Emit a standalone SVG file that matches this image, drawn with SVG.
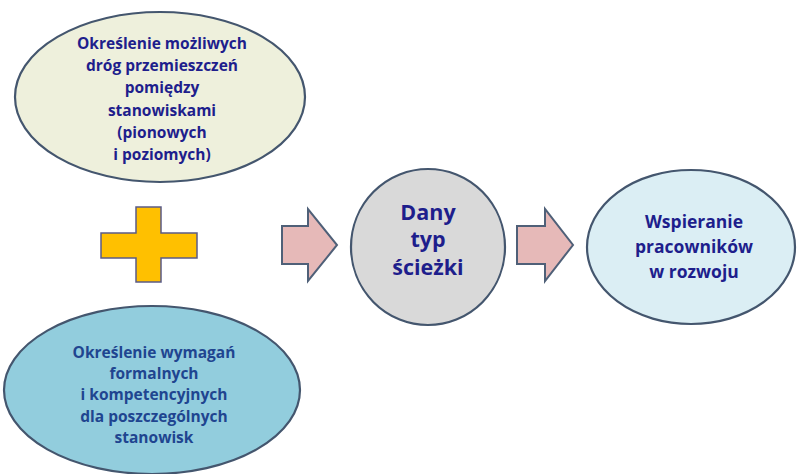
<svg xmlns="http://www.w3.org/2000/svg" width="798" height="474" viewBox="0 0 798 474">
<style>
.node{stroke:#44566e;stroke-width:2.2}
.t{font-family:"Open Sans","Noto Sans","Liberation Sans",sans-serif;font-weight:bold;text-anchor:middle}
.s16{font-size:15.5px;fill:#1e1e8c}
.s16b{font-size:15.5px;fill:#1f4590}
.s22{font-size:21.5px;fill:#1e1e8c}
.s17{font-size:17.5px;fill:#1e1e8c}
.arrow{fill:#e6b9b8;stroke:#4f6078;stroke-width:2;stroke-linejoin:miter}
</style>
<rect width="798" height="474" fill="#ffffff"/>
<g id="node-top">
<ellipse class="node" cx="160" cy="97" rx="145" ry="85" fill="#eef0dc"/>
<text class="t s16" x="162" y="49">Określenie możliwych</text>
<text class="t s16" x="162" y="71">dróg przemieszczeń</text>
<text class="t s16" x="162" y="93">pomiędzy</text>
<text class="t s16" x="162" y="116">stanowiskami</text>
<text class="t s16" x="162" y="138">(pionowych</text>
<text class="t s16" x="162" y="160">i poziomych)</text>
</g>
<g id="node-plus">
<path d="M136 207 H161 V233 H197 V258 H161 V282 H136 V258 H101 V233 H136 Z" fill="#ffc000" stroke="#5b5b86" stroke-width="1.5"/>
</g>
<g id="node-bottom">
<ellipse class="node" cx="152" cy="390" rx="148" ry="84" fill="#92cddd"/>
<text class="t s16b" x="154" y="358">Określenie wymagań</text>
<text class="t s16b" x="154" y="379">formalnych</text>
<text class="t s16b" x="154" y="400">i kompetencyjnych</text>
<text class="t s16b" x="154" y="422">dla poszczególnych</text>
<text class="t s16b" x="154" y="443">stanowisk</text>
</g>
<g id="node-path">
<ellipse class="node" cx="428" cy="247" rx="77" ry="78" fill="#d9d9d9"/>
<text class="t s22" x="428" y="220">Dany</text>
<text class="t s22" x="428" y="247">typ</text>
<text class="t s22" x="428" y="275">ścieżki</text>
</g>
<g id="node-support">
<ellipse class="node" cx="691" cy="247" rx="104" ry="77" fill="#dbeef4"/>
<text class="t s17" x="694" y="228">Wspieranie</text>
<text class="t s17" x="694" y="253">pracowników</text>
<text class="t s17" x="694" y="278">w rozwoju</text>
</g>
<g id="connectors">
<path class="arrow" d="M282 226 H308 V209 L337 245 L308 281 V264 H282 Z"/>
<path class="arrow" d="M517 226 H545 V209 L573 245 L545 281 V264 H517 Z"/>
</g>
</svg>
